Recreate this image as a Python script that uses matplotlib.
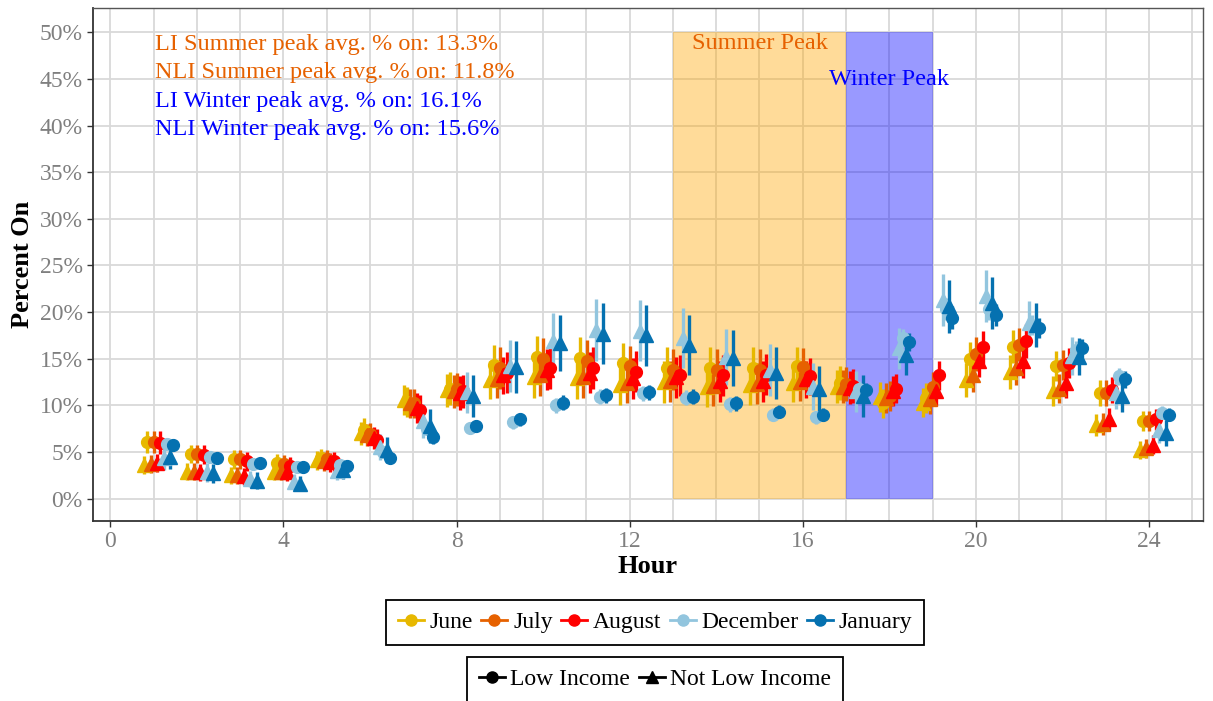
import matplotlib
matplotlib.use("Agg")
import matplotlib.pyplot as plt
from matplotlib.lines import Line2D
import numpy as np

plt.rcParams['font.family'] = ['Liberation Serif', 'DejaVu Serif']

hours = list(range(1, 25))
months = ['June', 'July', 'August', 'December', 'January']
month_colors = ['#E7B800', '#E66100', '#FF0000', '#92C5DE', '#0571B0']

# percent on, low income (circles)
li_june = [6.1, 4.8, 4.2, 3.8, 4.3, 7.4, 10.4, 11.8, 14.3, 15.2, 15.1, 14.5, 14.0, 14.0, 14.0, 14.2, 12.4, 10.2, 10.8, 15.0, 16.3, 14.2, 11.3, 8.3]
li_july = [6.1, 4.8, 4.2, 3.7, 4.2, 6.9, 10.2, 11.7, 14.0, 15.0, 14.8, 14.2, 13.8, 13.8, 13.8, 14.1, 12.3, 11.0, 12.0, 15.5, 16.5, 14.3, 11.3, 8.3]
li_august = [6.0, 4.7, 4.0, 3.5, 4.0, 6.3, 9.5, 11.5, 13.5, 14.0, 14.0, 13.6, 13.2, 13.2, 13.3, 13.1, 12.1, 11.8, 13.2, 16.2, 16.9, 14.5, 11.6, 8.5]
li_december = [5.9, 4.5, 3.7, 3.4, 3.6, 5.0, 7.5, 7.6, 8.2, 10.0, 10.9, 11.3, 10.8, 10.1, 9.0, 8.7, 11.8, 17.2, 20.3, 20.3, 18.6, 15.9, 13.1, 9.2]
li_january = [5.8, 4.4, 3.8, 3.4, 3.5, 4.4, 6.6, 7.8, 8.5, 10.3, 11.1, 11.4, 10.9, 10.2, 9.3, 9.0, 11.6, 16.8, 19.4, 19.7, 18.3, 16.1, 12.8, 9.0]

# percent on, not low income (triangles)
nli_june = [3.6, 2.9, 2.5, 2.9, 4.1, 7.0, 10.6, 11.6, 12.7, 13.0, 12.9, 12.2, 12.5, 12.0, 12.2, 12.4, 12.0, 10.9, 10.3, 12.7, 13.6, 11.5, 7.9, 5.2]
nli_july = [3.7, 2.9, 2.5, 2.9, 4.0, 6.8, 10.2, 11.5, 12.8, 13.2, 13.0, 12.4, 12.6, 12.1, 12.3, 12.5, 12.0, 10.8, 10.7, 13.2, 14.0, 11.8, 8.0, 5.4]
nli_august = [3.8, 2.8, 2.4, 2.8, 3.9, 6.5, 9.7, 11.3, 13.2, 13.8, 13.5, 12.9, 13.0, 12.6, 12.6, 12.8, 11.9, 11.5, 11.5, 14.8, 14.7, 12.4, 8.5, 5.8]
nli_december = [4.4, 2.8, 2.1, 1.8, 3.0, 5.5, 8.3, 11.4, 14.2, 16.9, 18.1, 18.0, 17.2, 15.2, 13.8, 12.0, 11.5, 16.1, 21.3, 21.7, 18.8, 15.3, 11.3, 7.4]
nli_january = [4.5, 2.7, 1.9, 1.6, 3.1, 5.2, 7.8, 11.0, 14.1, 16.7, 17.7, 17.5, 16.5, 15.1, 13.5, 11.7, 11.0, 15.4, 20.6, 21.0, 18.6, 15.2, 11.0, 7.0]

# error bar half widths
err_li_summer = [1.2, 1.0, 1.0, 1.0, 1.0, 1.2, 1.6, 1.8, 2.2, 2.2, 2.2, 2.2, 2.2, 2.2, 2.2, 2.0, 1.8, 1.6, 1.6, 1.8, 1.8, 1.6, 1.4, 1.1]
err_nli_summer = [1.0, 0.9, 0.9, 0.9, 1.0, 1.2, 1.6, 1.8, 2.0, 2.2, 2.2, 2.2, 2.2, 2.2, 2.2, 2.0, 1.8, 1.6, 1.6, 1.8, 1.8, 1.6, 1.2, 1.0]
err_li_winter = [0.6, 0.5, 0.5, 0.5, 0.5, 0.6, 0.7, 0.6, 0.7, 0.8, 0.8, 0.8, 0.8, 0.8, 0.7, 0.7, 0.8, 1.0, 1.2, 1.2, 1.1, 1.0, 0.9, 0.7]
err_nli_winter = [1.3, 1.0, 0.9, 0.8, 1.0, 1.4, 1.8, 2.2, 2.8, 3.0, 3.3, 3.3, 3.2, 3.0, 2.8, 2.5, 2.2, 2.2, 2.8, 2.8, 2.4, 2.0, 1.7, 1.4]

li = [li_june, li_july, li_august, li_december, li_january]
nli = [nli_june, nli_july, nli_august, nli_december, nli_january]
li_err = [err_li_summer] * 3 + [err_li_winter] * 2
nli_err = [err_nli_summer] * 3 + [err_nli_winter] * 2

notes = ['LI Summer peak avg. % on: 13.3%', 'NLI Summer peak avg. % on: 11.8%',
         'LI Winter peak avg. % on: 16.1%', 'NLI Winter peak avg. % on: 15.6%']
note_colors = ['#E66100', '#E66100', '#0000FF', '#0000FF']

fig = plt.figure(figsize=(12.13, 7.01), dpi=100)
ax = fig.add_axes([0.0767, 0.2568, 0.9151, 0.7318])

# peak windows
ax.fill_between([13, 17], 0, 50, color='orange', alpha=0.4, lw=0, zorder=2)
ax.fill_between([17, 19], 0, 50, color='blue', alpha=0.4, lw=0, zorder=2)
ax.text(15, 48.8, 'Summer Peak', color='#E66100', ha='center', va='center', fontsize=17.5, zorder=5)
ax.text(18, 44.9, 'Winter Peak', color='#0000FF', ha='center', va='center', fontsize=17.5, zorder=5)

x = np.array(hours) + 0.12
step = 0.075
for m in range(5):
    xn = x + (2 * m - 4.5) * step
    xl = x + (2 * m + 1 - 4.5) * step
    ax.errorbar(xn, nli[m], yerr=nli_err[m], fmt='^', color=month_colors[m], ms=10,
                elinewidth=2.4, capsize=0, zorder=4)
    ax.errorbar(xl, li[m], yerr=li_err[m], fmt='o', color=month_colors[m], ms=8.5,
                elinewidth=2.4, capsize=0, zorder=4)

for i, t in enumerate(notes):
    ax.text(1.03, 48.7 - 3.05 * i, t, color=note_colors[i], ha='left', va='center', fontsize=17.5, zorder=5)

ax.set_xlim(-0.4, 25.25)
ax.set_ylim(-2.4, 52.6)
ax.set_xticks(range(0, 25, 4))
ax.set_xticks(range(0, 26), minor=True)
ax.set_yticks(range(0, 51, 5))
ax.set_yticklabels([f'{v}%' for v in range(0, 51, 5)])
ax.grid(which='both', color='#D9D9D9', lw=1.3, zorder=0)
ax.set_axisbelow(True)
ax.tick_params(which='major', labelsize=17, labelcolor='#7F7F7F', color='#333333', length=4, width=1)
ax.tick_params(which='minor', length=0)
for s in ['left', 'bottom']:
    ax.spines[s].set_color('#333333')
    ax.spines[s].set_linewidth(1.3)
for s in ['top', 'right']:
    ax.spines[s].set_color('#555555')
    ax.spines[s].set_linewidth(1)

ax.set_xlabel('Hour', fontsize=19, fontweight='bold', labelpad=2)
ax.set_ylabel('Percent On', fontsize=19, fontweight='bold', labelpad=4)

# legends
leg_kw = dict(loc='upper center', fontsize=17, frameon=True, fancybox=False, edgecolor='black',
              framealpha=1, handlelength=1.1, handletextpad=0.25, columnspacing=0.35,
              borderpad=0.5, borderaxespad=0)
h1 = [Line2D([], [], color=c, marker='o', lw=2, ms=8) for c in month_colors]
leg1 = fig.legend(h1, months, bbox_to_anchor=(0.54, 1 - 600 / 701), ncol=5, **leg_kw)
leg1.get_frame().set_linewidth(1.3)
h2 = [Line2D([], [], color='black', marker='o', lw=2, ms=8),
      Line2D([], [], color='black', marker='^', lw=2, ms=9)]
leg2 = fig.legend(h2, ['Low Income', 'Not Low Income'], bbox_to_anchor=(0.54, 1 - 657 / 701),
                  ncol=2, **leg_kw)
leg2.get_frame().set_linewidth(1.3)

fig.savefig('out.png', dpi=100)
